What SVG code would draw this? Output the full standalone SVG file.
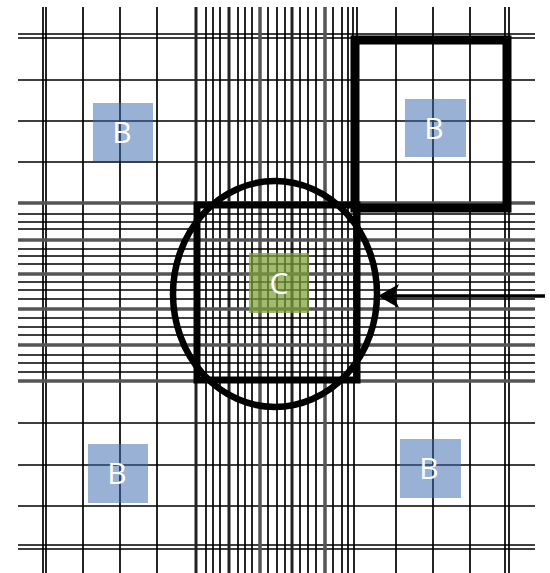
<svg xmlns="http://www.w3.org/2000/svg" width="550" height="573" viewBox="0 0 550 573">
<style>
.g{stroke:#000;stroke-width:1.7;fill:none}
.gh{stroke:#222;stroke-width:3;fill:none}
.gg{stroke:#555;stroke-width:3.5;fill:none}
.frame{stroke:#000;fill:none}
.b rect{fill:#3a6aad;fill-opacity:0.52}
.c rect{fill:#7f9f3a;fill-opacity:0.72}
.lbl{font-family:"Open Sans","Noto Sans",sans-serif;font-size:30px;fill:#fff;text-anchor:middle;dominant-baseline:central}
</style>
<rect width="550" height="573" fill="#fff"/>
<g id="grid">
<path class="g" d="M43,7V573M46,7V573M83,7V573M120,7V573M157,7V573M396,7V573M433,7V573M470,7V573M505,7V573M509,7V573M353,7V40M357,7V40M354,212V573"/>
<path class="g" d="M18,34H535M18,38H535M18,80H535M18,121H535M18,162H535M18,423H535M18,465H535M18,506H535M18,545H535M18,549H535"/>
<path class="g" d="M206,7V573M213,7V573M220,7V573M238,7V573M245,7V573M252,7V573M268,7V573M277,7V573M285,7V573M300,7V573M308,7V573M316,7V573M333,7V573M342,7V573M348,7V573"/>
<path class="gh" d="M196,7V573M229,7V573M292,7V573"/>
<path class="gg" d="M260,7V573M325,7V573"/>
<path class="g" d="M18,214H535M18,222H535M18,229H535M18,249H535M18,256H535M18,264H535M18,282H535M18,290H535M18,299H535M18,318H535M18,327H535M18,335H535M18,355H535M18,363H535M18,372H535"/>
<path class="gg" d="M18,203H535M18,240H535M18,274H535M18,309H535M18,345H535M18,381H535"/>
</g>
<g id="frames">
<rect class="frame" x="355" y="40" width="152" height="168" stroke-width="9"/>
<rect class="frame" x="197" y="205" width="160" height="175" stroke-width="7"/>
</g>
<g id="circle">
<ellipse cx="275" cy="294" rx="102" ry="113" fill="none" stroke="#000" stroke-width="6.5"/>
</g>
<g id="B1" class="b"><rect x="93" y="103" width="60" height="58"/><text class="lbl" x="122" y="131">B</text></g>
<g id="B2" class="b"><rect x="405" y="99" width="61" height="58"/><text class="lbl" x="434" y="127">B</text></g>
<g id="B3" class="b"><rect x="88" y="444" width="60" height="59"/><text class="lbl" x="117" y="472">B</text></g>
<g id="B4" class="b"><rect x="400" y="439" width="61" height="59"/><text class="lbl" x="429" y="467">B</text></g>
<g id="C" class="c"><rect x="249" y="253" width="60" height="60"/><text class="lbl" x="279" y="282">C</text></g>
<g id="connectors">
<line x1="545" y1="296" x2="392" y2="296" stroke="#000" stroke-width="3.5"/>
<path d="M378,296 L399,284 L394,296 L399,308 Z" fill="#000"/>
</g>
</svg>
